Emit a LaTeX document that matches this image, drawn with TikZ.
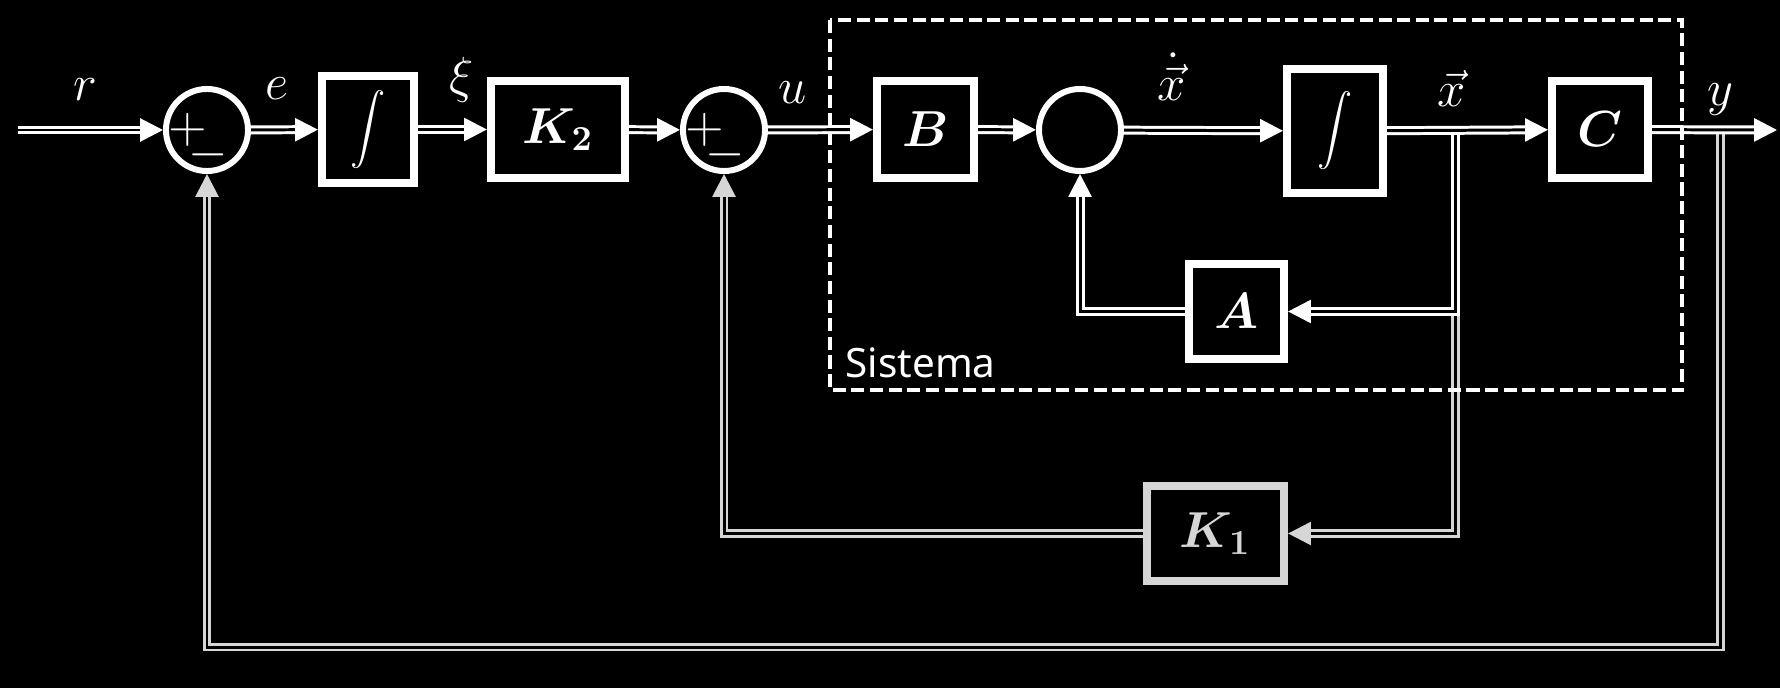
\documentclass[tikz,border=0pt]{standalone}
\usepackage{amsmath}
\usepackage{fontspec}
\newfontfamily\sistfont{Noto Sans}
\usetikzlibrary{arrows.meta}
\definecolor{fbgray}{RGB}{214,214,214}
\begin{document}
\begin{tikzpicture}[x=0.01cm,y=-0.01cm,color=white,
    font=\fontsize{14}{17}\selectfont,
    blk/.style={draw,line width=2.3pt,inner sep=0pt},
    sumj/.style={draw,circle,line width=1.7pt,minimum size=0.82cm,inner sep=0pt},
    sigl/.style={line width=0.85pt,double=black,double distance=0.85pt},
    sig/.style={sigl,-{Triangle[length=6.5pt,width=6.5pt]}}]
        \fill[black] (0,0) rectangle (1780,688);
        \useasboundingbox (0,0) rectangle (1780,688);
        % blocks
        \node[sumj] (sum1) at (207,130) {};
        \node[blk,minimum width=0.92cm,minimum height=1.07cm] (int1) at (368,129.5) {\fontsize{10}{12}\selectfont$\displaystyle\int$};
        \node[blk,minimum width=1.34cm,minimum height=0.97cm] (ktwo) at (558,129.5) {$\boldsymbol{K_2}$};
        \node[sumj] (sum2) at (724,130) {};
        \node[blk,minimum size=0.97cm] (bmat) at (925.5,129.5) {$\boldsymbol{B}$};
        \node[sumj] (sum3) at (1080,130) {};
        \node[blk,minimum width=0.96cm,minimum height=1.24cm] (int2) at (1335,131) {\fontsize{10}{12}\selectfont$\displaystyle\int$};
        \node[blk,minimum width=0.96cm,minimum height=0.97cm] (cmat) at (1600,129.5) {$\boldsymbol{C}$};
        \node[blk,minimum size=0.95cm] (amat) at (1236.5,311.5) {$\boldsymbol{A}$};
        \node[blk,draw=fbgray,text=fbgray,minimum width=1.37cm,minimum height=0.95cm] (kone) at (1215.5,533.5) {$\boldsymbol{K_1}$};
        \foreach \s in {sum1,sum2} {
          \node (\s p) at ([shift={(-19,0)}]\s) {$+$};
          \node (\s m) at ([shift={(1,25)}]\s) {$-$};
        }
        \coordinate (in) at (18,130);
        \coordinate (out) at (1777,130);
        \coordinate (bx) at (1455,130);
        \coordinate (yb) at (1720,130);
        \coordinate (ybot) at (1720,647);
        % feedback
        \draw[sig,draw=fbgray] (bx) |- (kone);
        \draw[sig] (bx) |- (amat);
        \draw[sig] (amat) -| (sum3);
        \draw[sig,draw=fbgray] (kone) -| (sum2);
        \draw[sig,draw=fbgray] (yb) -- (ybot) -| (sum1);
        % forward path
        \draw[sig] (in) -- (sum1);
        \draw[sig] (sum1) -- (int1);
        \draw[sig] (int1) -- (ktwo);
        \draw[sig] (ktwo) -- (sum2);
        \draw[sig] (sum2) -- (bmat);
        \draw[sig] (bmat) -- (sum3);
        \draw[sig] (sum3) -- (int2);
        \draw[sig] (int2) -- (cmat);
        \draw[sig] (cmat) -- (out);
        % signal names
        \node (lr) at (85,90) {$r$};
        \node (le) at (277,89) {$e$};
        \node (lxi) at (462,80) {$\xi$};
        \node (lu) at (793,93) {$u$};
        \node (lxd) at (1172,77) {$\dot{\vec{x}}$};
        \node (lx) at (1452,88) {$\vec{x}$};
        \node (ly) at (1720,100) {$y$};
        % system
        \draw[line width=1.1pt,dash pattern=on 3.7pt off 1.6pt] (830,20) rectangle (1682,390);
        \node[anchor=base west,inner sep=0pt,font=\sistfont\fontsize{11.5}{14}\selectfont] (sist) at (845,377) {Sistema};
\end{tikzpicture}
\end{document}
